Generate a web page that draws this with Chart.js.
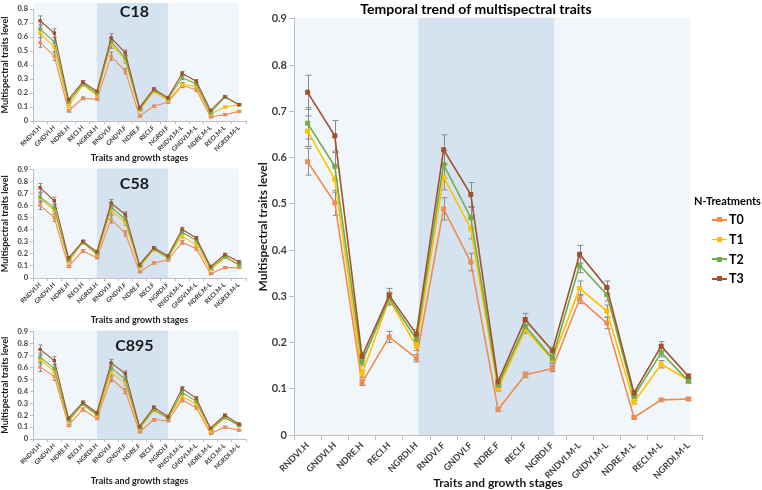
<!DOCTYPE html>
<html>
<head>
<meta charset="utf-8">
<script src="https://cdn.jsdelivr.net/npm/chart.js@4.4.1/dist/chart.umd.min.js"></script>
<style>
  body { margin: 0; background: #fff; width: 762px; height: 490px; position: relative; overflow: hidden; font-family: Lato, sans-serif; }
  canvas { position: absolute; }
  .legend { position: absolute; left: 694px; top: 194px; color: #000; }
  .legend .ttl { font-weight: bold; font-size: 11px; margin-bottom: 3px; }
  .legend .row { height: 19.7px; display: flex; align-items: center; padding-left: 18px; font-weight: bold; font-size: 12.5px; }
  .legend .ln { width: 15px; height: 1.6px; position: relative; margin-right: 2px; }
  .legend .ln i { position: absolute; left: 5px; top: -1.7px; width: 5px; height: 5px; }
</style>
</head>
<body>
<canvas id="c18" width="250" height="163" style="left:0;top:0"></canvas>
<canvas id="c58" width="250" height="162" style="left:0;top:163px"></canvas>
<canvas id="c895" width="250" height="165" style="left:0;top:325px"></canvas>
<canvas id="all" width="462" height="490" style="left:250px;top:0"></canvas>
<div class="legend" id="legend"></div>
<script>
const labels = ['RNDVI.H', 'GNDVI.H', 'NDRE.H', 'RECI.H', 'NGRDI.H',
                'RNDVI.F', 'GNDVI.F', 'NDRE.F', 'RECI.F', 'NGRDI.F',
                'RNDVI.M-L', 'GNDVI.M-L', 'NDRE.M-L', 'RECI.M-L', 'NGRDI.M-L'];
const treatments = ['T0', 'T1', 'T2', 'T3'];
const colors = ['#F08C50', '#FFC000', '#70AD47', '#A0522D'];
const ticks08 = [0, 0.1, 0.2, 0.3, 0.4, 0.5, 0.6, 0.7, 0.8];
const ticks09 = [0, 0.1, 0.2, 0.3, 0.4, 0.5, 0.6, 0.7, 0.8, 0.9];

// big chart, all cultivars
const allT0 = [0.591, 0.502, 0.113, 0.212, 0.166, 0.489, 0.374, 0.055, 0.130, 0.144, 0.294, 0.242, 0.038, 0.076, 0.078];
const allT1 = [0.657, 0.553, 0.132, 0.293, 0.192, 0.558, 0.446, 0.100, 0.228, 0.163, 0.317, 0.268, 0.071, 0.153, 0.119];
const allT2 = [0.674, 0.581, 0.158, 0.296, 0.207, 0.585, 0.470, 0.108, 0.235, 0.166, 0.367, 0.304, 0.084, 0.178, 0.117];
const allT3 = [0.741, 0.647, 0.170, 0.302, 0.218, 0.617, 0.520, 0.115, 0.250, 0.182, 0.391, 0.319, 0.091, 0.192, 0.127];
const allT0err = [0.029, 0.027, 0.006, 0.012, 0.008, 0.024, 0.019, 0.004, 0.006, 0.007, 0.010, 0.012, 0.003, 0.003, 0.003];
const allT1err = [0.033, 0.028, 0.007, 0.012, 0.009, 0.028, 0.022, 0.005, 0.008, 0.008, 0.016, 0.013, 0.004, 0.008, 0.004];
const allT2err = [0.034, 0.030, 0.008, 0.013, 0.010, 0.030, 0.022, 0.006, 0.010, 0.008, 0.016, 0.014, 0.004, 0.009, 0.005];
const allT3err = [0.037, 0.033, 0.008, 0.015, 0.010, 0.032, 0.026, 0.006, 0.013, 0.008, 0.019, 0.014, 0.005, 0.010, 0.005];

// C18
const c18T0 = [0.561, 0.463, 0.072, 0.162, 0.155, 0.463, 0.356, 0.036, 0.105, 0.134, 0.253, 0.224, 0.029, 0.045, 0.069];
const c18T1 = [0.630, 0.525, 0.105, 0.258, 0.184, 0.549, 0.434, 0.076, 0.210, 0.148, 0.260, 0.248, 0.048, 0.100, 0.115];
const c18T2 = [0.656, 0.566, 0.136, 0.267, 0.196, 0.566, 0.451, 0.086, 0.220, 0.158, 0.310, 0.265, 0.057, 0.172, 0.117];
const c18T3 = [0.716, 0.628, 0.153, 0.279, 0.212, 0.594, 0.487, 0.095, 0.229, 0.167, 0.339, 0.284, 0.076, 0.174, 0.117];
const c18err = [0.035, 0.030, 0.008, 0.010, 0.008, 0.030, 0.020, 0.006, 0.008, 0.006, 0.015, 0.012, 0.005, 0.006, 0.005];

// C58
const c58T0 = [0.603, 0.500, 0.095, 0.224, 0.168, 0.486, 0.370, 0.051, 0.124, 0.149, 0.297, 0.243, 0.035, 0.086, 0.086];
const c58T1 = [0.662, 0.559, 0.135, 0.295, 0.192, 0.559, 0.459, 0.089, 0.235, 0.168, 0.349, 0.273, 0.068, 0.170, 0.116];
const c58T2 = [0.673, 0.581, 0.149, 0.297, 0.203, 0.589, 0.486, 0.100, 0.241, 0.170, 0.381, 0.311, 0.084, 0.176, 0.108];
const c58T3 = [0.749, 0.641, 0.168, 0.303, 0.219, 0.622, 0.527, 0.111, 0.251, 0.184, 0.405, 0.332, 0.095, 0.195, 0.135];
const c58err = [0.035, 0.030, 0.008, 0.012, 0.008, 0.030, 0.022, 0.006, 0.008, 0.006, 0.016, 0.012, 0.005, 0.008, 0.005];

// C895
const c895T0 = [0.602, 0.524, 0.113, 0.247, 0.172, 0.508, 0.401, 0.059, 0.161, 0.153, 0.328, 0.261, 0.046, 0.099, 0.073];
const c895T1 = [0.664, 0.565, 0.145, 0.293, 0.194, 0.556, 0.468, 0.086, 0.239, 0.175, 0.355, 0.293, 0.067, 0.180, 0.113];
const c895T2 = [0.683, 0.591, 0.159, 0.293, 0.207, 0.597, 0.497, 0.094, 0.247, 0.175, 0.390, 0.315, 0.086, 0.180, 0.113];
const c895T3 = [0.750, 0.656, 0.175, 0.306, 0.220, 0.637, 0.548, 0.105, 0.266, 0.188, 0.422, 0.341, 0.091, 0.199, 0.126];
const c895err = [0.037, 0.033, 0.008, 0.013, 0.008, 0.030, 0.022, 0.006, 0.010, 0.006, 0.017, 0.012, 0.005, 0.008, 0.005];

Chart.defaults.font.family = 'Lato, sans-serif';
Chart.defaults.color = '#404040';

// light / dark / light background bands, edges at the last category of each stage
const bands = {
  id: 'bands',
  beforeDraw(chart, args, o) {
    const { ctx, chartArea: a, scales: { x, y } } = chart;
    const top = o.top != null ? y.getPixelForValue(o.top) : a.top - 1;
    const e1 = x.getPixelForValue(4) + o.shift;
    const e2 = x.getPixelForValue(9) + o.shift;
    const e3 = x.getPixelForValue(14) + o.shift;
    const h = a.bottom - top;
    ctx.save();
    ctx.fillStyle = '#F1F6FB';
    ctx.fillRect(a.left, top, e1 - a.left, h);
    ctx.fillRect(e2, top, e3 - e2, h);
    ctx.fillStyle = '#D5E2F0';
    ctx.fillRect(e1, top, e2 - e1, h);
    if (o.label) {
      ctx.fillStyle = '#1a1a1a';
      ctx.font = 'bold 16px Lato, sans-serif';
      ctx.textAlign = 'center';
      ctx.textBaseline = 'middle';
      ctx.fillText(o.label, (x.getPixelForValue(4) + x.getPixelForValue(9)) / 2 + 2, y.getPixelForValue(0.78));
    }
    ctx.restore();
  }
};

const errorBars = {
  id: 'errorBars',
  beforeDatasetsDraw(chart, args, o) {
    const { ctx, scales: { x, y } } = chart;
    ctx.save();
    ctx.strokeStyle = '#8a8a8a';
    ctx.lineWidth = 1;
    chart.data.datasets.forEach(ds => {
      ds.err.forEach((e, i) => {
        const px = Math.round(x.getPixelForValue(i)) + 0.5;
        const hi = y.getPixelForValue(ds.data[i] + e);
        const lo = y.getPixelForValue(ds.data[i] - e);
        ctx.beginPath();
        ctx.moveTo(px, hi); ctx.lineTo(px, lo);
        ctx.moveTo(px - o.cap, hi); ctx.lineTo(px + o.cap, hi);
        ctx.moveTo(px - o.cap, lo); ctx.lineTo(px + o.cap, lo);
        ctx.stroke();
      });
    });
    ctx.restore();
  }
};

function makeChart(id, series, errs, s) {
  const datasets = series.map((d, i) => ({
    label: treatments[i],
    data: d,
    err: errs[i],
    borderColor: colors[i],
    backgroundColor: colors[i],
    borderWidth: s.lw,
    pointStyle: 'rect',
    pointRadius: s.pr,
    pointBorderWidth: 0,
    order: 3 - i
  }));
  return new Chart(document.getElementById(id), {
    type: 'line',
    data: { labels, datasets },
    plugins: [bands, errorBars],
    options: {
      responsive: false,
      animation: false,
      layout: { padding: s.pad },
      plugins: {
        legend: { display: false },
        tooltip: { enabled: false },
        title: s.title ? {
          display: true, text: s.title, color: '#000',
          font: { size: 14, weight: 'bold' }, padding: { top: 1, bottom: 1 }
        } : { display: false },
        bands: { shift: s.shift, top: s.bandTop, label: s.label },
        errorBars: { cap: s.cap }
      },
      scales: {
        x: {
          offset: true,
          grid: { offset: true, drawOnChartArea: false, tickLength: s.tl, color: '#bfbfbf' },
          border: { color: '#bfbfbf' },
          ticks: { minRotation: 45, maxRotation: 45, autoSkip: false, padding: 0,
                   font: { size: s.xf, weight: 'bold' }, color: '#404040' },
          title: { display: true, text: 'Traits and growth stages', color: '#1a1a1a',
                   font: { size: s.tf, weight: 'bold' }, padding: { top: 0, bottom: 0 } },
          afterFit: sc => { sc.height = s.xh; }
        },
        y: {
          min: 0, max: s.max,
          grid: { drawOnChartArea: false, tickLength: s.tl, color: '#bfbfbf' },
          border: { color: '#bfbfbf' },
          afterBuildTicks: sc => { sc.ticks = s.yticks.map(v => ({ value: v })); },
          ticks: { autoSkip: false, padding: 2,
                   font: { size: s.yf, weight: 'bold' }, color: '#404040' },
          title: { display: true, text: 'Multispectral traits level', color: '#1a1a1a',
                   font: { size: s.tf, weight: 'bold' }, padding: { top: s.ytp, bottom: 0 } },
          afterFit: sc => { sc.width = s.yw; }
        }
      }
    }
  });
}

const small = { lw: 1.1, pr: 2.4, cap: 2, tl: 3, xf: 6.3, yf: 7.5, tf: 9, yw: 33, shift: 0, ytp: 0 };

makeChart('c18', [c18T0, c18T1, c18T2, c18T3], [c18err, c18err, c18err, c18err],
  Object.assign({}, small, { max: 0.8, yticks: ticks08, bandTop: 0.843, label: 'C18', xh: 42, pad: { top: 9, right: 3, bottom: 0 } }));
makeChart('c58', [c58T0, c58T1, c58T2, c58T3], [c58err, c58err, c58err, c58err],
  Object.assign({}, small, { max: 0.9, yticks: ticks09, label: 'C58', xh: 47, pad: { top: 4, right: 3, bottom: 0 } }));
makeChart('c895', [c895T0, c895T1, c895T2, c895T3], [c895err, c895err, c895err, c895err],
  Object.assign({}, small, { max: 0.9, yticks: ticks09, label: 'C895', xh: 47, pad: { top: 2, right: 3, bottom: 4 } }));

makeChart('all', [allT0, allT1, allT2, allT3], [allT0err, allT1err, allT2err, allT3err],
  { lw: 1.6, pr: 3.5, cap: 3, tl: 5, xf: 9, yf: 11, tf: 12, yw: 44, shift: 2, ytp: 6, yticks: ticks09,
    max: 0.9, xh: 55, title: 'Temporal trend of multispectral traits', pad: { top: 0, right: 10, bottom: 0 } });

// legend
const leg = document.getElementById('legend');
leg.innerHTML = '<div class="ttl">N-Treatments</div>' + treatments.map((t, i) =>
  `<div class="row"><span class="ln" style="background:${colors[i]}"><i style="background:${colors[i]}"></i></span>${t}</div>`
).join('');
</script>
</body>
</html>
